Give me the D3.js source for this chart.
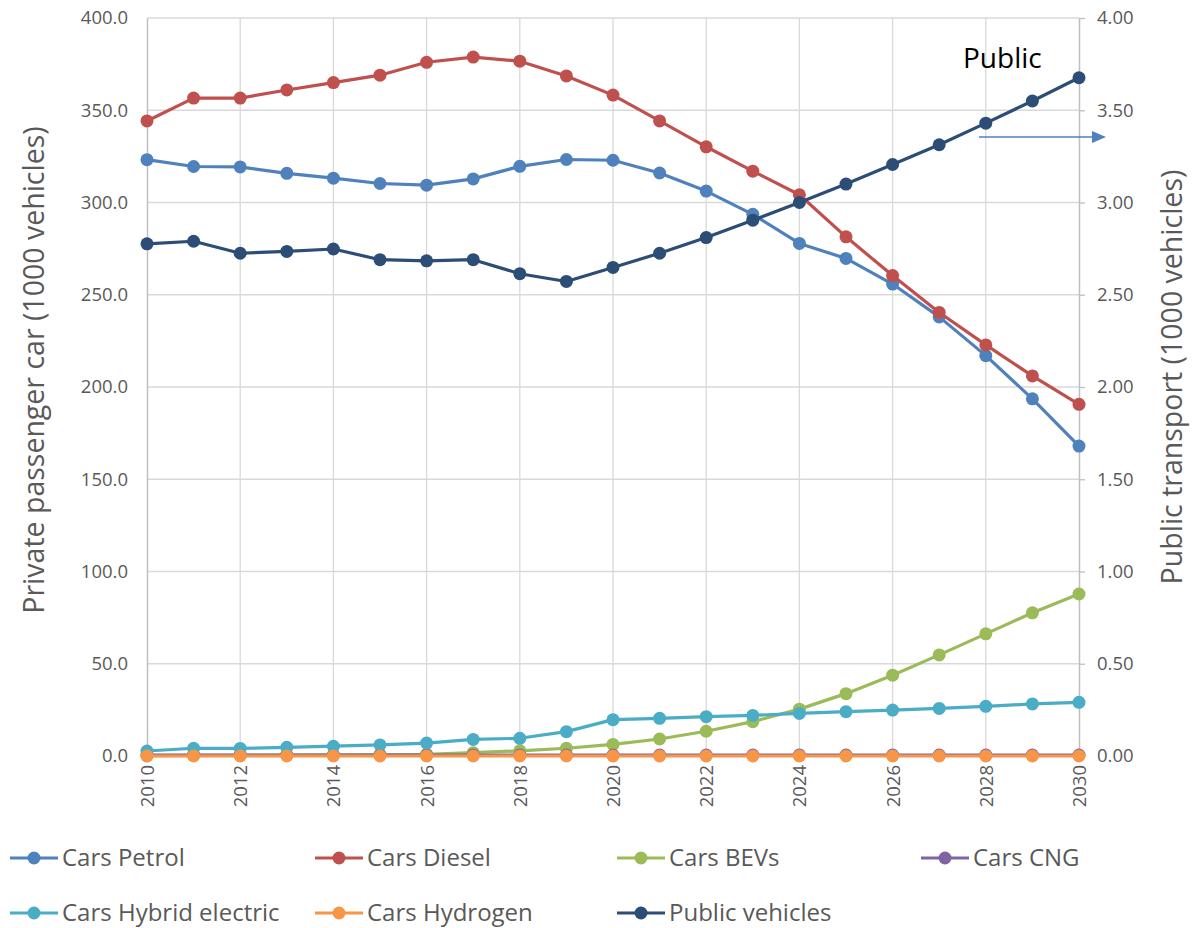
<!DOCTYPE html>
<html>
<head>
<meta charset="utf-8">
<script src="https://cdn.jsdelivr.net/npm/d3@7"></script>
<style>
  html, body { margin: 0; padding: 0; background: #fff; }
  svg { display: block; font-family: "Open Sans", "Noto Sans", sans-serif; }
</style>
</head>
<body>
<svg id="chart" width="1198" height="928"></svg>
<script>
// Years on the x axis
const years = d3.range(2010, 2031);

// Private passenger cars (1000 vehicles), left axis
const carsPetrol = [323.2, 319.5, 319.3, 315.8, 313.2, 310.3, 309.4, 312.8, 319.6, 323.3, 322.9, 316.0, 306.2, 293.6, 277.8, 269.7, 255.8, 238.0, 217.0, 193.6, 168.0];
const carsDiesel = [344.2, 356.6, 356.6, 361.0, 365.0, 369.0, 376.0, 378.8, 376.6, 368.6, 358.2, 344.2, 330.2, 317.0, 304.2, 281.4, 260.4, 240.4, 222.8, 206.0, 190.6];
const carsBEVs = [0.2, 0.3, 0.4, 0.5, 0.6, 0.7, 0.9, 1.8, 2.8, 4.2, 6.3, 9.2, 13.4, 18.6, 25.4, 33.8, 43.8, 54.8, 66.2, 77.6, 87.8];
const carsCNG = [0.5, 0.5, 0.5, 0.5, 0.5, 0.5, 0.5, 0.5, 0.5, 0.5, 0.5, 0.5, 0.5, 0.5, 0.5, 0.5, 0.5, 0.5, 0.5, 0.5, 0.5];
const carsHybrid = [2.7, 4.2, 4.1, 4.7, 5.3, 6.0, 7.0, 9.0, 9.6, 13.2, 19.7, 20.4, 21.3, 22.0, 23.1, 24.0, 24.9, 25.8, 26.9, 28.2, 29.1];
const carsHydrogen = [0, 0, 0, 0, 0, 0, 0, 0, 0, 0, 0, 0, 0, 0, 0, 0, 0, 0, 0, 0, 0];

// Public transport vehicles (1000 vehicles), right axis
const publicVehicles = [2.776, 2.790, 2.725, 2.735, 2.748, 2.690, 2.684, 2.690, 2.614, 2.572, 2.648, 2.725, 2.810, 2.904, 3.000, 3.100, 3.206, 3.313, 3.430, 3.550, 3.676];

// Axis ticks
const leftTicks = [0, 50, 100, 150, 200, 250, 300, 350, 400];
const rightTicks = [0, 0.5, 1, 1.5, 2, 2.5, 3, 3.5, 4];
const yearTicks = d3.range(2010, 2031, 2);

const series = [
  { name: "Cars Petrol", values: carsPetrol, color: "#4F81BD", axis: "left" },
  { name: "Cars Diesel", values: carsDiesel, color: "#C0504D", axis: "left" },
  { name: "Cars BEVs", values: carsBEVs, color: "#9BBB59", axis: "left" },
  { name: "Cars CNG", values: carsCNG, color: "#8064A2", axis: "left" },
  { name: "Cars Hybrid electric", values: carsHybrid, color: "#4BACC6", axis: "left" },
  { name: "Cars Hydrogen", values: carsHydrogen, color: "#F79646", axis: "left" },
  { name: "Public vehicles", values: publicVehicles, color: "#2C4D75", axis: "right" }
];

const svg = d3.select("#chart");
const plot = { left: 147, right: 1079, top: 18, bottom: 756 };

const x = d3.scaleLinear().domain([2010, 2030]).range([plot.left, plot.right]);
const yL = d3.scaleLinear().domain([0, 400]).range([plot.bottom, plot.top]);
const yR = d3.scaleLinear().domain([0, 4]).range([plot.bottom, plot.top]);

const textColor = "#595959";
const gridColor = "#D9D9D9";
const axisColor = "#BFBFBF";
const tickFont = 18.5;

// Grid lines
const grid = svg.append("g");
grid.selectAll("line.h").data(leftTicks).join("line")
  .attr("x1", plot.left).attr("x2", plot.right)
  .attr("y1", d => yL(d)).attr("y2", d => yL(d))
  .attr("stroke", gridColor).attr("stroke-width", 1.3);
grid.selectAll("line.v").data(yearTicks.slice(1, -1)).join("line")
  .attr("x1", d => x(d)).attr("x2", d => x(d))
  .attr("y1", plot.top).attr("y2", plot.bottom)
  .attr("stroke", gridColor).attr("stroke-width", 1.3);

// Left axis
const leftAxis = svg.append("g").attr("transform", `translate(${plot.left},0)`)
  .call(d3.axisLeft(yL).tickValues(leftTicks).tickFormat(d3.format(".1f")).tickSize(0).tickPadding(19));
leftAxis.select(".domain").attr("stroke", axisColor).attr("stroke-width", 1.5);
leftAxis.selectAll("text").attr("fill", textColor).attr("font-size", tickFont).attr("font-family", "Open Sans");

// Right axis
const rightAxis = svg.append("g").attr("transform", `translate(${plot.right},0)`)
  .call(d3.axisRight(yR).tickValues(rightTicks).tickFormat(d3.format(".2f")).tickSize(6).tickSizeOuter(0).tickPadding(12));
rightAxis.select(".domain").attr("stroke", axisColor).attr("stroke-width", 1.5);
rightAxis.selectAll(".tick line").attr("stroke", axisColor).attr("stroke-width", 1.3);
rightAxis.selectAll("text").attr("fill", textColor).attr("font-size", tickFont).attr("font-family", "Open Sans");

// Bottom axis (years, rotated)
const bottomAxis = svg.append("g").attr("transform", `translate(0,${plot.bottom})`)
  .call(d3.axisBottom(x).tickValues(yearTicks).tickFormat(d3.format("d")).tickSize(0));
bottomAxis.select(".domain").remove();
bottomAxis.selectAll("text")
  .attr("fill", textColor).attr("font-size", tickFont).attr("font-family", "Open Sans")
  .attr("transform", "rotate(-90)")
  .attr("text-anchor", "end")
  .attr("x", -9).attr("y", 0).attr("dy", "0.35em");

// Axis titles
svg.append("text")
  .attr("transform", `translate(44,${(plot.top + plot.bottom) / 2 - 17}) rotate(-90)`)
  .attr("text-anchor", "middle")
  .attr("fill", textColor).attr("font-size", 28.5)
  .text("Private passenger car (1000 vehicles)");
svg.append("text")
  .attr("transform", `translate(1182,${(plot.top + plot.bottom) / 2 - 10}) rotate(-90)`)
  .attr("text-anchor", "middle")
  .attr("fill", textColor).attr("font-size", 28.5)
  .text("Public transport (1000 vehicles)");

// Series lines and markers
const linesG = svg.append("g");
series.forEach(s => {
  const yS = s.axis === "left" ? yL : yR;
  const pts = years.map((yr, i) => [yr, s.values[i]]);
  const g = linesG.append("g");
  g.append("path").datum(pts)
    .attr("fill", "none").attr("stroke", s.color).attr("stroke-width", 3.2)
    .attr("stroke-linejoin", "round")
    .attr("d", d3.line().x(d => x(d[0])).y(d => yS(d[1])));
  g.selectAll("circle").data(pts).join("circle")
    .attr("cx", d => x(d[0])).attr("cy", d => yS(d[1]))
    .attr("r", 6.5).attr("fill", s.color);
});

// Annotation: public transport series reads on the right axis
svg.append("text")
  .attr("x", 963).attr("y", 68)
  .attr("fill", "#000").attr("font-size", 28)
  .text("Public");
svg.append("line")
  .attr("x1", 979).attr("x2", 1093).attr("y1", 137).attr("y2", 137)
  .attr("stroke", "#4F81BD").attr("stroke-width", 1.5);
svg.append("path")
  .attr("d", "M1106,137 L1092,131 L1092,143 Z")
  .attr("fill", "#4F81BD");

// Legend
const legendPos = [
  { col: 10, row: 858 }, { col: 315, row: 858 }, { col: 617, row: 858 }, { col: 921, row: 858 },
  { col: 10, row: 913 }, { col: 315, row: 913 }, { col: 617, row: 913 }
];
const legendOrder = ["Cars Petrol", "Cars Diesel", "Cars BEVs", "Cars CNG", "Cars Hybrid electric", "Cars Hydrogen", "Public vehicles"];
const legend = svg.append("g");
legendOrder.forEach((name, i) => {
  const s = series.find(d => d.name === name);
  const p = legendPos[i];
  const g = legend.append("g").attr("transform", `translate(${p.col},${p.row})`);
  g.append("line").attr("x1", 0).attr("x2", 48).attr("y1", 0).attr("y2", 0)
    .attr("stroke", s.color).attr("stroke-width", 3.2);
  g.append("circle").attr("cx", 24).attr("cy", 0).attr("r", 6.5).attr("fill", s.color);
  g.append("text").attr("x", 52).attr("y", 0).attr("dy", "0.35em")
    .attr("fill", textColor).attr("font-size", 24)
    .text(name);
});
</script>
</body>
</html>
